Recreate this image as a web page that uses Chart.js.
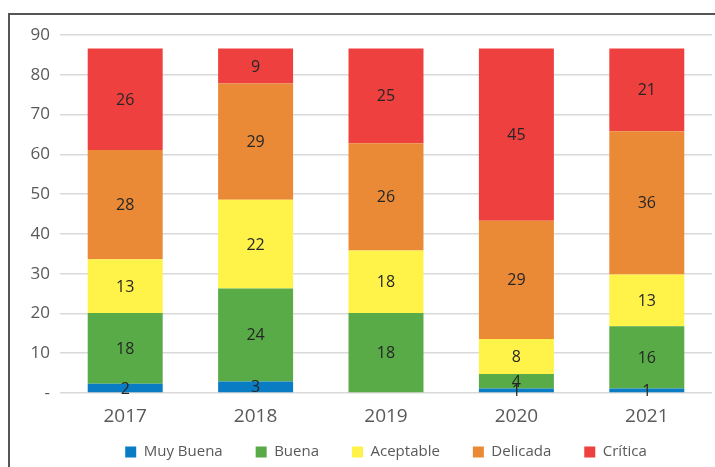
<!DOCTYPE html>
<html>
<head>
<meta charset="utf-8">
<script src="https://cdn.jsdelivr.net/npm/chart.js@4/dist/chart.umd.min.js"></script>
<style>
  html, body { margin: 0; padding: 0; background: #fff; overflow: hidden; }
  #wrap { position: relative; width: 715px; height: 467px; }
  #frame { position: absolute; left: 8px; top: 13px; right: -10px; bottom: -10px;
           border-left: 2px solid #555; border-top: 2px solid #555; pointer-events: none; }
</style>
</head>
<body>
<div id="wrap">
  <canvas id="chart" width="715" height="467"></canvas>
  <div id="frame"></div>
</div>
<script>
const years = ['2017', '2018', '2019', '2020', '2021'];

// segment heights as drawn
const muyBuena = [2.3, 2.9, 0, 1.1, 1.1];
const buena = [17.8, 23.4, 20.1, 3.7, 15.7];
const aceptable = [13.5, 22.3, 15.7, 8.8, 13.0];
const delicada = [27.5, 29.2, 27.0, 29.7, 36.0];
const critica = [25.5, 8.8, 23.8, 43.3, 20.8];

// numbers printed on the segments
const muyBuenaTxt = [2, 3, null, 1, 1];
const buenaTxt = [18, 24, 18, 4, 16];
const aceptableTxt = [13, 22, 18, 8, 13];
const delicadaTxt = [28, 29, 26, 29, 36];
const criticaTxt = [26, 9, 25, 45, 21];

const yTicks = [0, 10, 20, 30, 40, 50, 60, 70, 80, 90];

const FONT = '"Open Sans", "Noto Sans", sans-serif';

const segmentLabels = {
  id: 'segmentLabels',
  afterDatasetsDraw(chart) {
    const ctx = chart.ctx;
    ctx.save();
    ctx.font = '16px ' + FONT;
    ctx.fillStyle = '#262626';
    ctx.textAlign = 'center';
    ctx.textBaseline = 'middle';
    chart.data.datasets.forEach((ds, i) => {
      chart.getDatasetMeta(i).data.forEach((bar, j) => {
        const t = ds.txt[j];
        if (t == null) return;
        ctx.fillText(String(t), bar.x, (bar.y + bar.base) / 2 + 1);
      });
    });
    ctx.restore();
  }
};

// keep the wide item spacing but sit the legend row closer to the axis
const legendNudge = {
  id: 'legendNudge',
  afterLayout(chart) {
    const lg = chart.legend;
    const shift = lg.top + lg.options.labels.padding + 7.5 - 452;
    lg.top -= shift;
    lg.height += shift;
  }
};

const mk = (label, data, txt, color) => ({
  label: label,
  data: data,
  txt: txt,
  backgroundColor: color,
  borderWidth: 0,
  categoryPercentage: 1,
  barPercentage: 0.575
});

new Chart(document.getElementById('chart').getContext('2d'), {
  type: 'bar',
  data: {
    labels: years,
    datasets: [
      mk('Muy Buena', muyBuena, muyBuenaTxt, '#0A7CC4'),
      mk('Buena', buena, buenaTxt, '#58AB47'),
      mk('Aceptable', aceptable, aceptableTxt, '#FFF34A'),
      mk('Delicada', delicada, delicadaTxt, '#EA8A36'),
      mk('Crítica', critica, criticaTxt, '#EF4040')
    ]
  },
  options: {
    responsive: false,
    animation: false,
    layout: { padding: { top: 35, right: 3, left: 0, bottom: 0 } },
    plugins: {
      tooltip: { enabled: false },
      legend: {
        position: 'bottom',
        fullSize: false,
        maxHeight: 40,
        labels: {
          boxWidth: 11,
          boxHeight: 11,
          padding: 33,
          color: '#595959',
          font: { family: FONT, size: 15 }
        }
      }
    },
    scales: {
      x: {
        stacked: true,
        grid: { display: false },
        border: { display: false },
        ticks: { color: '#595959', padding: 4, font: { family: FONT, size: 19 } },
        afterFit: s => { s.height = 34; }
      },
      y: {
        stacked: true,
        min: 0,
        max: 90,
        afterBuildTicks: s => { s.ticks = yTicks.map(v => ({ value: v })); },
        grid: { color: '#d9d9d9', lineWidth: 1.5, drawTicks: false },
        border: { display: false },
        ticks: {
          color: '#595959',
          padding: 10,
          font: { family: FONT, size: 17 },
          callback: v => v === 0 ? '-' : v
        },
        afterFit: s => { s.width = 60; }
      }
    }
  },
  plugins: [segmentLabels, legendNudge]
});
</script>
</body>
</html>
